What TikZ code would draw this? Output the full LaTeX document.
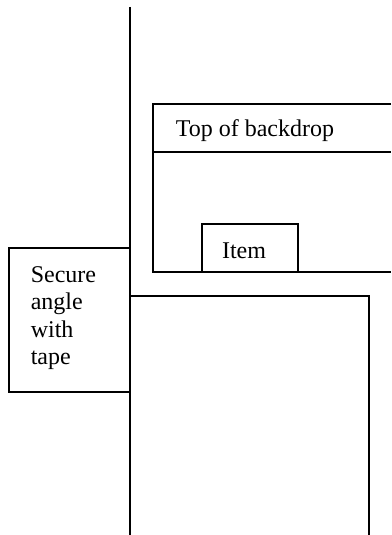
\documentclass[tikz,border=0pt]{standalone}
\usepackage{fontspec}
\setmainfont{Liberation Serif}
\usepackage{tikz}

\begin{document}
\begin{tikzpicture}[x=0.5pt,y=-0.5pt,line width=0.8pt]
				\tikzstyle{every node}+=[inner sep=0pt,font=\fontsize{12}{13.6}\selectfont]
				\useasboundingbox (0,0) rectangle (391,535);
				% backdrop (runs off the right edge)
				\draw [black] (391,104) -- (153,104) -- (153,272) -- (391,272);
				\draw [black] (153,152) -- (391,152);
				\node [anchor=west] (top) at (175,131) {Top of backdrop};
				\draw [black] (202,272) rectangle (298,224);
				\node (item) at (244,251) {Item};
				% pole and lower board
				\draw [black] (130,7) -- (130,535);
				\draw [black] (130,296) -- (369,296) -- (369,535);
				\draw [black] (130,248) -- (9,248) -- (9,392) -- (130,392);
				\node [anchor=north west,align=left] (tape) at (30,266) {Secure\\angle\\with\\tape};
			\end{tikzpicture}
\end{document}
